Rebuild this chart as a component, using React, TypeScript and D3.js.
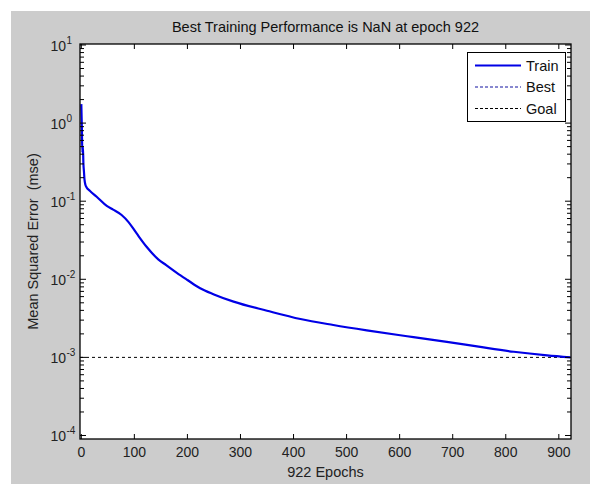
import React, { useEffect, useRef } from "react"
import * as d3 from "d3"

// training curve (epoch, mse)
const epochs = [0, 1, 2, 3, 4, 5, 6, 8, 10, 16, 29, 48, 60, 76, 89, 104, 123, 145, 160, 180, 200, 224, 250, 287, 350, 413, 475, 538, 601, 626, 689, 752, 815, 878, 922]
const mse = [1.75, 0.9, 0.42, 0.5, 0.3, 0.24, 0.19, 0.16, 0.15, 0.136, 0.114, 0.087, 0.078, 0.0666, 0.054, 0.0389, 0.0261, 0.018, 0.0152, 0.0121, 0.0098, 0.00767, 0.0064, 0.00517, 0.00396, 0.0031, 0.0026, 0.00222, 0.00192, 0.00182, 0.00158, 0.00136, 0.00118, 0.00106, 0.001]
const goal = 0.001
const xTicks = [0, 100, 200, 300, 400, 500, 600, 700, 800, 900]
const yDecades = [-4, -3, -2, -1, 0, 1]
const legendItems = ["Train", "Best", "Goal"]
const titleText = "Best Training Performance is NaN at epoch 922"
const xLabel = "922 Epochs"
const yLabel = "Mean Squared Error  (mse)"

const W = 590
const H = 484
const FONT = "Arial, 'Liberation Sans', sans-serif"

const App = () => {
    const ref = useRef<SVGSVGElement>(null)

    useEffect(() => {
        if (!ref.current) return
        const svg = d3.select(ref.current)
        svg.selectAll("*").remove()

        const left = 80, right = 571, top = 44, bottom = 439

        svg.append("rect").attr("x", 11).attr("y", 11)
            .attr("width", W - 11).attr("height", H - 11).attr("fill", "#cccccc")

        const x = d3.scaleLinear().domain([0, 922]).range([81.3, 570.5])
        const y = d3.scaleLog()
            .domain([Math.pow(10, -4.045), Math.pow(10, 1.0128)])
            .range([bottom, top])

        svg.append("rect").attr("x", left).attr("y", top)
            .attr("width", right - left).attr("height", bottom - top)
            .attr("fill", "#fff")

        const g = svg.append("g")

        // goal line
        g.append("line")
            .attr("x1", left).attr("x2", right)
            .attr("y1", y(goal)).attr("y2", y(goal))
            .attr("stroke", "#000").attr("stroke-width", 1)
            .attr("stroke-dasharray", "3,3")

        const pts = epochs.map((e, i) => [e, mse[i]] as [number, number])
        const line = d3.line<[number, number]>()
            .x((d) => x(d[0]))
            .y((d) => y(d[1]))
            .curve(d3.curveMonotoneX)
        g.append("path").datum(pts)
            .attr("d", line)
            .attr("fill", "none")
            .attr("stroke", "#0000e6")
            .attr("stroke-width", 2.2)
            .attr("stroke-linejoin", "round")

        // box
        svg.append("rect").attr("x", left).attr("y", top)
            .attr("width", right - left).attr("height", bottom - top)
            .attr("fill", "none").attr("stroke", "#000").attr("stroke-width", 1.3)

        // x ticks
        xTicks.forEach((t) => {
            const xx = x(t)
            svg.append("line").attr("x1", xx).attr("x2", xx)
                .attr("y1", bottom).attr("y2", bottom - 5).attr("stroke", "#000")
            svg.append("line").attr("x1", xx).attr("x2", xx)
                .attr("y1", top).attr("y2", top + 5).attr("stroke", "#000")
            svg.append("text").attr("x", xx).attr("y", bottom + 18)
                .attr("text-anchor", "middle")
                .attr("font-family", FONT).attr("font-size", 14)
                .attr("fill", "#222").text(t)
        })

        // y ticks, majors and minors
        yDecades.forEach((p) => {
            const v = Math.pow(10, p)
            const yy = y(v)
            ;[[left, 6], [right, -6]].forEach(([x0, len]) => {
                svg.append("line").attr("x1", x0).attr("x2", x0 + len)
                    .attr("y1", yy).attr("y2", yy).attr("stroke", "#000")
            })
            svg.append("text").attr("x", 66).attr("y", yy + 6)
                .attr("text-anchor", "end")
                .attr("font-family", FONT).attr("font-size", 14).attr("fill", "#222")
                .text("10")
            svg.append("text").attr("x", 66.5).attr("y", yy - 1)
                .attr("font-family", FONT).attr("font-size", 10).attr("fill", "#222")
                .text(String(p))
            if (p < 1) {
                for (let k = 2; k <= 9; k++) {
                    const my = y(v * k)
                    ;[[left, 4], [right, -4]].forEach(([x0, len]) => {
                        svg.append("line").attr("x1", x0).attr("x2", x0 + len)
                            .attr("y1", my).attr("y2", my).attr("stroke", "#000")
                    })
                }
            }
        })

        // title and labels
        svg.append("text").attr("x", (left + right) / 2).attr("y", 32)
            .attr("text-anchor", "middle")
            .attr("font-family", FONT).attr("font-size", 14.5).attr("fill", "#111")
            .text(titleText)
        svg.append("text").attr("x", (left + right) / 2).attr("y", 477)
            .attr("text-anchor", "middle")
            .attr("font-family", FONT).attr("font-size", 14.5).attr("fill", "#222")
            .text(xLabel)
        svg.append("text")
            .attr("transform", `translate(38,${(top + bottom) / 2}) rotate(-90)`)
            .attr("text-anchor", "middle")
            .attr("font-family", FONT).attr("font-size", 14.5).attr("fill", "#222")
            .style("white-space", "pre")
            .text(yLabel)

        // legend
        const lg = svg.append("g")
        lg.append("rect").attr("x", 467.5).attr("y", 52.5)
            .attr("width", 98).attr("height", 69)
            .attr("fill", "#fff").attr("stroke", "#000").attr("stroke-width", 1)
        const styles = [
            { stroke: "#0000e6", w: 2.2, dash: null },
            { stroke: "#1010a0", w: 1, dash: "3,2" },
            { stroke: "#000", w: 1, dash: "3,2" },
        ]
        legendItems.forEach((name, i) => {
            const ly = 65.5 + i * 21.5
            lg.append("line").attr("x1", 475).attr("x2", 521)
                .attr("y1", ly).attr("y2", ly)
                .attr("stroke", styles[i].stroke)
                .attr("stroke-width", styles[i].w)
                .attr("stroke-dasharray", styles[i].dash)
            lg.append("text").attr("x", 526).attr("y", ly + 5)
                .attr("font-family", FONT).attr("font-size", 14.5).attr("fill", "#111")
                .text(name)
        })
    }, [])

    return (
        <svg
            ref={ref}
            width={W}
            height={H}
            style={{ position: "absolute", left: 0, top: 0, background: "#fff" }}
        />
    )
}

export default App
